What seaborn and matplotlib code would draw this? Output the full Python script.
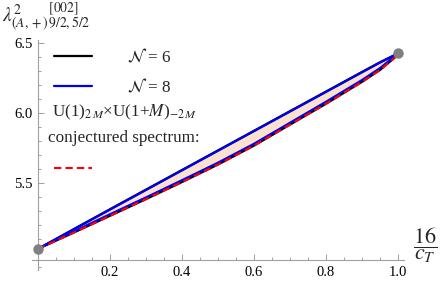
import numpy as np
import pandas as pd
import matplotlib
matplotlib.use("Agg")
import matplotlib.pyplot as plt
from matplotlib.lines import Line2D
from matplotlib.ticker import MultipleLocator
import seaborn as sns

# ---- data ----
x = [0.0, 0.1, 0.2, 0.3, 0.4, 0.5, 0.6, 0.7, 0.8, 0.9, 0.95, 1.0]
upper_n6 = [5.03, 5.172, 5.313, 5.453, 5.593, 5.733, 5.873, 6.013, 6.153, 6.293, 6.362, 6.425]
upper_n8 = [5.03, 5.17, 5.31, 5.45, 5.59, 5.73, 5.87, 6.01, 6.15, 6.29, 6.36, 6.425]
lower_n8 = [5.03, 5.155, 5.277, 5.397, 5.52, 5.645, 5.78, 5.93, 6.08, 6.235, 6.32, 6.425]
lower_n6 = [5.03, 5.147, 5.266, 5.385, 5.507, 5.632, 5.767, 5.917, 6.066, 6.222, 6.307, 6.415]
conjectured = [5.03, 5.147, 5.266, 5.385, 5.507, 5.632, 5.767, 5.917, 6.066, 6.222, 6.307, 6.415]
end_x = [0.0, 1.0]
end_y = [5.03, 6.43]

sns.set_theme(style="white")
plt.rcParams["font.family"] = ["Liberation Serif", "DejaVu Serif"]
plt.rcParams["mathtext.fontset"] = "stix"

fig = plt.figure(figsize=(4.41, 2.85), dpi=100)
ax = fig.add_axes([32 / 441, 1 - 270 / 285, (404 - 32) / 441, (270 - 40) / 285])

df = pd.DataFrame({"x": x, "u6": upper_n6, "u8": upper_n8, "l6": lower_n6,
                   "l8": lower_n8, "c": conjectured})

ax.fill_between(df["x"], df["l8"], df["u8"], color="#FCE2CA", lw=0, zorder=1)
sns.lineplot(data=df, x="x", y="u6", color="black", lw=1.6, ax=ax, zorder=2)
sns.lineplot(data=df, x="x", y="l6", color="black", lw=1.6, ax=ax, zorder=2)
sns.lineplot(data=df, x="x", y="u8", color="#0000EE", lw=1.6, ax=ax, zorder=3)
sns.lineplot(data=df, x="x", y="l8", color="#0000EE", lw=1.6, ax=ax, zorder=3)
sns.lineplot(data=df, x="x", y="c", color="#FF0000", lw=1.5, ax=ax, zorder=4,
             linestyle=(0, (3.5, 2.0)))
ax.plot(end_x, end_y, "o", color="#808080", ms=6.5, zorder=5, clip_on=False)

ax.set_xlim(-0.0167, 1.0167)
ax.set_ylim(4.879, 6.521)
ax.set_xlabel("")
ax.set_ylabel("")

for s in ["top", "right"]:
    ax.spines[s].set_visible(False)
ax.spines["left"].set_position(("data", 0))
ax.spines["bottom"].set_position(("data", 4.95))
for s in ["left", "bottom"]:
    ax.spines[s].set_color("#A0A0A0")
    ax.spines[s].set_linewidth(0.8)

ax.set_xticks([0.2, 0.4, 0.6, 0.8, 1.0])
ax.set_xticklabels(["0.2", "0.4", "0.6", "0.8", "1.0"])
ax.set_yticks([5.5, 6.0, 6.5])
ax.set_yticklabels(["5.5", "6.0", "6.5"])
ax.xaxis.set_minor_locator(MultipleLocator(0.05))
ax.yaxis.set_minor_locator(MultipleLocator(0.1))
ax.tick_params(which="both", direction="in", color="#A0A0A0", width=0.7,
               labelsize=10.5, labelcolor="black", bottom=True, left=True)
ax.tick_params(which="major", length=4, pad=4)
ax.tick_params(which="minor", length=2.3)

FS = 12.3
# legend
h6 = Line2D([], [], color="black", lw=1.6)
h8 = Line2D([], [], color="#0000EE", lw=1.6)
leg1 = ax.legend([h6, h8], [r"$\mathcal{N}$ = 6", r"$\mathcal{N}$ = 8"],
                 loc="upper left", bbox_to_anchor=(22 / 372, 1 - 8 / 230),
                 frameon=False, fontsize=FS, handlelength=2.2,
                 handletextpad=2.1, labelspacing=0.68, borderaxespad=0,
                 borderpad=0)
ax.add_artist(leg1)
fig.text(52 / 441, 1 - 112 / 285, r"U(1)$_{2\,M}$×U(1+$M$)$_{-2\,M}$",
         fontsize=FS, va="center", ha="left")
fig.text(48 / 441, 1 - 138 / 285, "conjectured spectrum:",
         fontsize=FS, va="center", ha="left")
hc = Line2D([], [], color="#FF0000", lw=1.5, linestyle=(0, (3.5, 2.0)))
leg2 = ax.legend([hc], [""], loc="center left",
                 bbox_to_anchor=(22 / 372, 1 - 130 / 230),
                 frameon=False, fontsize=FS, handlelength=2.2, borderaxespad=0,
                 borderpad=0)

fig.text(2 / 441, 1 - 17 / 285,
         r"$\lambda^{2}_{(A,+)}{}^{[002]}_{9/2,5/2}$", fontsize=14,
         va="center", ha="left")
fig.text(425 / 441, 1 - 245 / 285, r"$\dfrac{16}{c_T}$", fontsize=16,
         va="center", ha="center")

fig.savefig("out.png", dpi=100)
